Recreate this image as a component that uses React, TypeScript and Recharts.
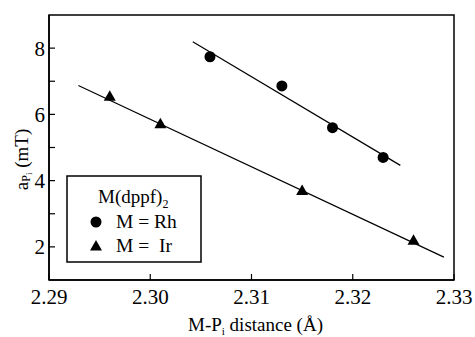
import React from "react";
import {
  ComposedChart,
  Scatter,
  XAxis,
  YAxis,
  ReferenceArea,
  Label
} from "recharts";

const xTicks = [2.29, 2.3, 2.31, 2.32, 2.33];
const yTicks = [2, 3, 4, 5, 6, 7, 8];

const rhPoints = [
  { x: 2.3059, y: 7.74 },
  { x: 2.313, y: 6.86 },
  { x: 2.318, y: 5.6 },
  { x: 2.323, y: 4.7 }
];

const irPoints = [
  { x: 2.296, y: 6.55 },
  { x: 2.301, y: 5.72 },
  { x: 2.315, y: 3.7 },
  { x: 2.326, y: 2.2 }
];

// fitted lines, endpoints
const rhFit = [
  { x: 2.3042, y: 8.19 },
  { x: 2.3247, y: 4.46 }
];
const irFit = [
  { x: 2.2929, y: 6.87 },
  { x: 2.329, y: 1.69 }
];

const legendTitle = "M(dppf)";
const legendRows = ["M = Rh", "M =  Ir"];

const FONT = "Liberation Serif";

function Dot(props: any) {
  const { cx, cy } = props;
  return <circle cx={cx} cy={cy} r={5.5} fill="#000" />;
}

function Tri(props: any) {
  const { cx, cy } = props;
  return (
    <path
      d={`M${cx},${cy - 6} L${cx + 6},${cy + 4.5} L${cx - 6},${cy + 4.5} Z`}
      fill="#000"
    />
  );
}

function NoShape() {
  return null;
}

function LegendBox() {
  return (
    <svg
      width={140}
      height={92}
      style={{ position: "absolute", left: 64, top: 174 }}
    >
      <rect x={3} y={2} width={134} height={86} fill="#fff" stroke="#000" strokeWidth={1.5} />
      <text x={34} y={29} fontFamily={FONT} fontSize={19} fill="#000">
        {legendTitle}
        <tspan fontSize={12} dy={5}>
          2
        </tspan>
      </text>
      <circle cx={32} cy={48} r={5.5} fill="#000" />
      <text x={52} y={54} fontFamily={FONT} fontSize={19.5} fill="#000" style={{ whiteSpace: "pre" }}>
        {legendRows[0]}
      </text>
      <path d="M32,66 L38,76.5 L26,76.5 Z" fill="#000" />
      <text x={52} y={78} fontFamily={FONT} fontSize={19.5} fill="#000" style={{ whiteSpace: "pre" }}>
        {legendRows[1]}
      </text>
    </svg>
  );
}

function YTitle(props: any) {
  const vb = props.viewBox || {};
  const cx = 21;
  const cy = vb.y + vb.height / 2 + 12;
  return (
    <text
      x={cx}
      y={cy}
      transform={`rotate(-90 ${cx} ${cy})`}
      textAnchor="middle"
      dominantBaseline="central"
      fontFamily={FONT}
      fontSize={19}
      fill="#000"
    >
      a
      <tspan fontSize={12} dy={5}>
        P
      </tspan>
      <tspan fontSize={9} dy={3}>
        i
      </tspan>
      <tspan fontSize={19} dy={-8}>
        {" "}(mT)
      </tspan>
    </text>
  );
}

function XTitle(props: any) {
  const vb = props.viewBox || {};
  const cx = vb.x + vb.width / 2 + 4;
  return (
    <text
      x={cx}
      y={331}
      textAnchor="middle"
      fontFamily={FONT}
      fontSize={19}
      fill="#000"
    >
      M-P
      <tspan fontSize={11} dy={4}>
        i
      </tspan>
      <tspan dy={-4}> distance (Å)</tspan>
    </text>
  );
}

export default function App() {
  return (
    <div
      style={{
        position: "absolute",
        left: 0,
        top: 0,
        width: 475,
        height: 337,
        background: "#fff"
      }}
    >
      <ComposedChart
        width={475}
        height={337}
        margin={{ top: 15, right: 21, bottom: 0, left: 0 }}
      >
        <XAxis
          type="number"
          dataKey="x"
          domain={[2.29, 2.33]}
          ticks={xTicks}
          tickFormatter={(v: number) => v.toFixed(2)}
          allowDataOverflow
          height={57}
          axisLine={{ stroke: "#000", strokeWidth: 1.5 }}
          tickLine={{ stroke: "#000", strokeWidth: 1.2 }}
          tickSize={-6}
          tickMargin={15}
          tick={{ fill: "#000", fontFamily: FONT, fontSize: 21 }}
        >
          <Label content={<XTitle />} />
        </XAxis>
        <YAxis
          type="number"
          dataKey="y"
          domain={[1, 9]}
          ticks={yTicks}
          tickFormatter={(v: number) => (v % 2 === 0 ? String(v) : "")}
          allowDataOverflow
          width={49}
          axisLine={{ stroke: "#000", strokeWidth: 1.5 }}
          tickLine={{ stroke: "#000", strokeWidth: 1.2 }}
          tickSize={-6}
          tickMargin={10}
          tick={{ fill: "#000", fontFamily: FONT, fontSize: 21 }}
        >
          <Label content={<YTitle />} />
        </YAxis>
        <ReferenceArea
          x1={2.29}
          x2={2.33}
          y1={1}
          y2={9}
          fill="none"
          stroke="#000"
          strokeWidth={1.5}
          ifOverflow="visible"
        />
        <Scatter
          data={rhFit}
          line={{ stroke: "#000", strokeWidth: 1.2 }}
          shape={<NoShape />}
          isAnimationActive={false}
        />
        <Scatter
          data={irFit}
          line={{ stroke: "#000", strokeWidth: 1.2 }}
          shape={<NoShape />}
          isAnimationActive={false}
        />
        <Scatter
          name="M = Rh"
          data={rhPoints}
          shape={<Dot />}
          isAnimationActive={false}
        />
        <Scatter
          name="M = Ir"
          data={irPoints}
          shape={<Tri />}
          isAnimationActive={false}
        />
      </ComposedChart>
      <LegendBox />
    </div>
  );
}
